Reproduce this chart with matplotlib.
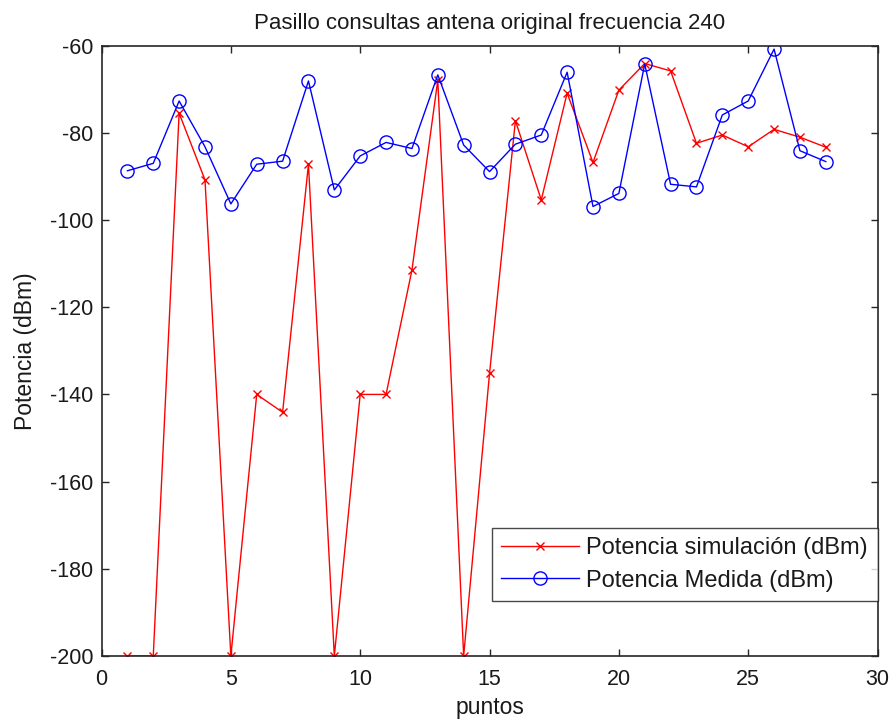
import matplotlib
matplotlib.use("Agg")
import matplotlib.pyplot as plt

puntos = list(range(1, 29))
potencia_simulacion = [
    -200, -200, -75.5, -90.8, -200, -140, -144.1, -87.2, -200, -140,
    -140, -111.5, -67.9, -200, -135.2, -77.2, -95.4, -70.9, -86.8, -70.2,
    -64.1, -65.8, -82.4, -80.5, -83.2, -79.2, -81.0, -83.3,
]
potencia_medida = [
    -88.7, -87.0, -72.7, -83.2, -96.3, -87.2, -86.5, -68.1, -93.1, -85.3,
    -82.2, -83.6, -66.7, -82.8, -88.9, -82.6, -80.5, -66.1, -96.9, -93.9,
    -64.2, -91.8, -92.4, -75.9, -72.7, -60.8, -84.1, -86.6,
]
x_ticks = [0, 5, 10, 15, 20, 25, 30]
y_ticks = [-200, -180, -160, -140, -120, -100, -80, -60]

plt.rcParams["font.family"] = ["Liberation Sans", "DejaVu Sans"]
plt.rcParams["axes.unicode_minus"] = False

fig = plt.figure(figsize=(8.89, 7.22), dpi=100)
ax = fig.add_axes([0.1142, 0.0914, 0.8729, 0.8454])

ax.plot(puntos, potencia_simulacion, color="red", marker="x", markersize=6,
        markeredgewidth=1.0, linewidth=1.0, label="Potencia simulación (dBm)")
ax.plot(puntos, potencia_medida, color="blue", marker="o", markersize=9.5,
        markerfacecolor="none", markeredgewidth=1.0, linewidth=1.0,
        label="Potencia Medida (dBm)")

ax.set_xlim(0, 30)
ax.set_ylim(-200, -60)
ax.set_xticks(x_ticks)
ax.set_yticks(y_ticks)
ax.tick_params(direction="in", top=True, right=True, length=5, width=1,
               labelsize=15.5, colors="#262626", labelcolor="#1a1a1a")
ax.tick_params(axis="x", pad=9)
ax.tick_params(axis="y", pad=6)
for s in ax.spines.values():
    s.set_linewidth(1.2)
    s.set_color("#262626")

ax.set_title("Pasillo consultas antena original frecuencia 240", fontsize=16,
             pad=12, color="#1a1a1a")
ax.set_xlabel("puntos", fontsize=16.5, labelpad=5, color="#1a1a1a")
ax.set_ylabel("Potencia (dBm)", fontsize=16.5, labelpad=9, color="#1a1a1a")

leg = ax.legend(loc="lower right", bbox_to_anchor=(1.0, 0.09), fontsize=17,
                frameon=True, fancybox=False, edgecolor="#1a1a1a",
                borderaxespad=0, handlelength=3.3, borderpad=0.4,
                labelspacing=0.45, handletextpad=0.3)
leg.get_frame().set_linewidth(1.0)
for t in leg.get_texts():
    t.set_color("#1a1a1a")

fig.savefig("out.png", dpi=100)
